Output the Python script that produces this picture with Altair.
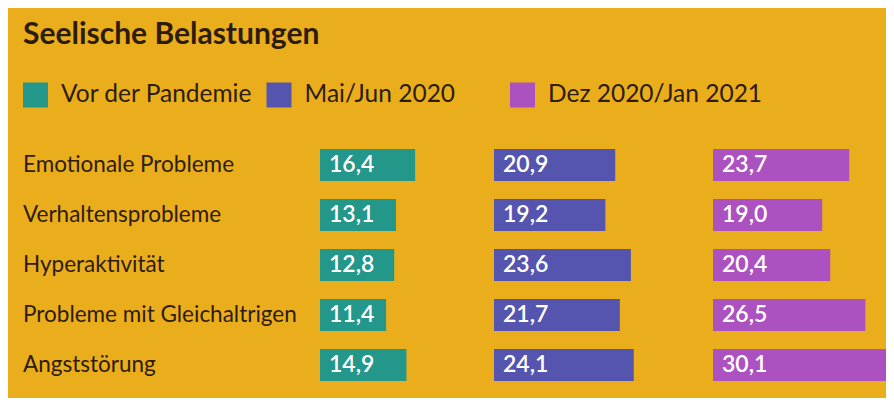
import altair as alt
import pandas as pd

categories = ["Emotionale Probleme", "Verhaltensprobleme", "Hyperaktivität",
              "Probleme mit Gleichaltrigen", "Angststörung"]
periods = ["Vor der Pandemie", "Mai/Jun 2020", "Dez 2020/Jan 2021"]
vor_pandemie = [16.4, 13.1, 12.8, 11.4, 14.9]
mai_jun_2020 = [20.9, 19.2, 23.6, 21.7, 24.1]
dez_jan_2021 = [23.7, 19.0, 20.4, 26.5, 30.1]
colors = ["#23978A", "#5555AF", "#AC52C0"]

BG = "#EAAE1C"
DARK = "#2E1C0A"
FONT = "Lato"
PX_PER_UNIT = 5.8

rows = []
for period, vals in zip(periods, [vor_pandemie, mai_jun_2020, dez_jan_2021]):
    for cat, v in zip(categories, vals):
        rows.append({"category": cat, "period": period, "value": v})
df = pd.DataFrame(rows)
legend_df = pd.DataFrame({"period": periods})
cat_df = pd.DataFrame({"category": categories})

color = alt.Color("period:N", scale=alt.Scale(domain=periods, range=colors), legend=None)
y = alt.Y("category:N", sort=categories,
          scale=alt.Scale(paddingInner=0.36, paddingOuter=0.18), axis=None)

# legend row (point scale: first entry at the left edge)
lx = alt.X("period:N", sort=periods, scale=alt.Scale(type="point", padding=0), axis=None)
leg_sq = alt.Chart(legend_df).mark_square(size=625, opacity=1, xOffset=12.5).encode(
    x=lx, y=alt.value(13), color=color)
leg_tx = alt.Chart(legend_df).mark_text(
    align="left", baseline="middle", dx=38, fontSize=24.5, font=FONT, color=DARK
).encode(x=lx, y=alt.value(13), text="period:N")
legend_row = alt.layer(leg_sq, leg_tx).properties(width=487, height=26)

# category labels column
labels = alt.Chart(cat_df).mark_text(
    align="left", baseline="middle", fontSize=22.5, font=FONT, color=DARK
).encode(x=alt.value(0), y=y, text="category:N").properties(width=297, height=250)


def panel(period, width, domain_max):
    base = alt.Chart(df).transform_filter(alt.datum.period == period)
    x = alt.X("value:Q", scale=alt.Scale(domain=[0, domain_max], nice=False), axis=None)
    bars = base.mark_bar().encode(x=x, y=y, color=color)
    text = base.transform_calculate(
        label="replace(format(datum.value, '.1f'), '.', ',')"
    ).mark_text(align="left", baseline="middle", dx=9, color="white",
                fontSize=23, font=FONT, fontWeight=600).encode(
        x=alt.value(0), y=y, text="label:N")
    return alt.layer(bars, text).properties(width=width, height=250)


panels = alt.hconcat(
    labels,
    panel(periods[0], 174, 174 / PX_PER_UNIT),
    panel(periods[1], 219, 219 / PX_PER_UNIT),
    panel(periods[2], 173, 30.1),
    spacing=0,
)

chart = alt.vconcat(legend_row, panels, spacing=32).properties(
    title=alt.TitleParams("Seelische Belastungen", anchor="start", fontSize=30,
                          font=FONT, fontWeight="bold", color=DARK, offset=32),
    background=BG,
    padding={"left": 15, "top": 12, "right": 0, "bottom": 8},
).configure_view(stroke=None)

chart.save("out.html", embed_options={"renderer": "svg", "actions": False})
